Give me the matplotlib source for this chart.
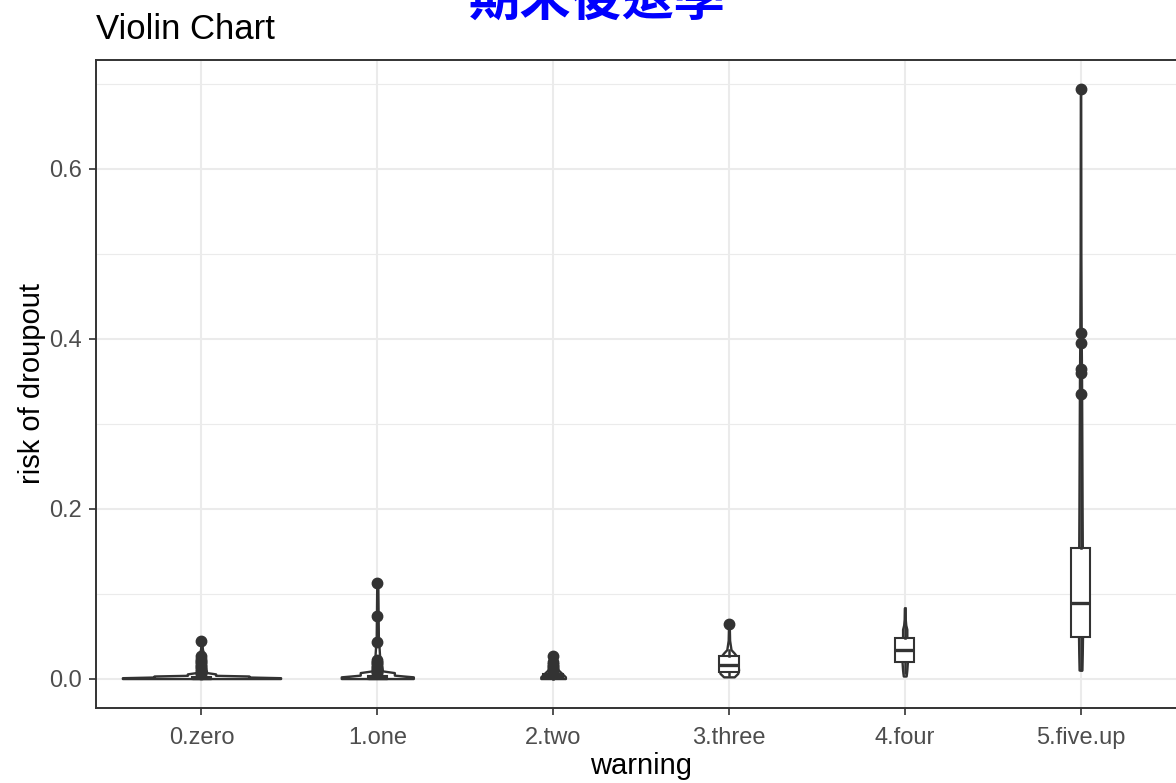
import matplotlib
matplotlib.use('Agg')
import matplotlib.pyplot as plt
from matplotlib.ticker import FixedLocator

plt.rcParams['font.family'] = ['Liberation Sans', 'DejaVu Sans']

# categories on the x axis
categories = ['0.zero', '1.one', '2.two', '3.three', '4.four', '5.five.up']

# violin outlines: y levels and half widths (x units)
violin_y = [
    [0.000, 0.001, 0.0018, 0.003, 0.0038, 0.0055, 0.007, 0.015, 0.026, 0.035, 0.044],
    [0.000, 0.002, 0.003, 0.004, 0.007, 0.009, 0.020, 0.050, 0.112],
    [0.000, 0.002, 0.004, 0.007, 0.010, 0.014, 0.018, 0.024],
    [0.002, 0.006, 0.010, 0.020, 0.026, 0.030, 0.034, 0.045, 0.064],
    [0.003, 0.006, 0.010, 0.019, 0.030, 0.045, 0.050, 0.058, 0.063, 0.070, 0.083],
    [0.010, 0.030, 0.060, 0.090, 0.120, 0.160, 0.200, 0.250, 0.300, 0.350, 0.400, 0.500, 0.600, 0.693],
]
violin_hw = [
    [0.45, 0.45, 0.27, 0.27, 0.08, 0.08, 0.03, 0.02, 0.015, 0.005, 0.002],
    [0.205, 0.205, 0.15, 0.097, 0.097, 0.03, 0.015, 0.006, 0.003],
    [0.07, 0.07, 0.06, 0.045, 0.03, 0.02, 0.01, 0.003],
    [0.03, 0.05, 0.055, 0.05, 0.045, 0.03, 0.012, 0.004, 0.002],
    [0.008, 0.01, 0.012, 0.015, 0.015, 0.014, 0.012, 0.012, 0.006, 0.003, 0.002],
    [0.008, 0.01, 0.012, 0.012, 0.012, 0.01, 0.009, 0.008, 0.007, 0.006, 0.004, 0.002, 0.0015, 0.001],
]

# boxplot statistics
box_q1 = [0.000, 0.000, 0.001, 0.008, 0.019, 0.049]
box_med = [0.001, 0.001, 0.003, 0.016, 0.033, 0.089]
box_q3 = [0.002, 0.003, 0.005, 0.026, 0.048, 0.154]
whisk_lo = [0.000, 0.000, 0.000, 0.004, 0.006, 0.010]
whisk_hi = [0.004, 0.005, 0.008, 0.034, 0.083, 0.330]
outliers = [
    [0.005, 0.007, 0.009, 0.011, 0.013, 0.015, 0.017, 0.019, 0.021, 0.023, 0.026, 0.044],
    [0.006, 0.008, 0.010, 0.012, 0.014, 0.016, 0.018, 0.020, 0.022, 0.0435, 0.074, 0.112],
    [0.009, 0.011, 0.013, 0.015, 0.017, 0.019, 0.026],
    [0.064],
    [],
    [0.335, 0.360, 0.364, 0.395, 0.407, 0.693],
]

dark = '#333333'
fig = plt.figure(figsize=(11.76, 7.83), dpi=100)
ax = fig.add_axes([96/1176, 1 - 708/783, (1186 - 96)/1176, (708 - 60)/783])

pos = list(range(1, len(categories) + 1))
for i, p in enumerate(pos):
    lft = [p - h for h in violin_hw[i]]
    rgt = [p + h for h in violin_hw[i]]
    ax.fill_betweenx(violin_y[i], lft, rgt, facecolor='white', edgecolor=dark,
                     linewidth=1.7, zorder=2)

stats = []
for i in range(len(categories)):
    stats.append({'med': box_med[i], 'q1': box_q1[i], 'q3': box_q3[i],
                  'whislo': whisk_lo[i], 'whishi': whisk_hi[i], 'fliers': outliers[i]})
ax.bxp(stats, positions=pos, widths=0.11, showcaps=False, patch_artist=True,
       boxprops=dict(facecolor='white', edgecolor=dark, linewidth=1.5),
       whiskerprops=dict(color=dark, linewidth=1.8),
       medianprops=dict(color=dark, linewidth=2.4),
       flierprops=dict(marker='o', markerfacecolor=dark, markeredgecolor=dark, markersize=7.5),
       manage_ticks=False, zorder=3)

ymax = max(max(v) for v in violin_y)
ax.set_xlim(0.4, 6.6)
ax.set_ylim(-0.05 * ymax, ymax * 1.05)
ax.set_xticks(pos)
ax.set_xticklabels(categories)
ax.set_yticks([0.0, 0.2, 0.4, 0.6])
ax.set_yticklabels(['0.0', '0.2', '0.4', '0.6'])
ax.yaxis.set_minor_locator(FixedLocator([0.1, 0.3, 0.5, 0.7]))
ax.tick_params(axis='both', which='major', length=5, width=1.2, color=dark,
               labelsize=17, labelcolor='#4D4D4D', pad=5)
ax.tick_params(axis='x', which='major', pad=9)
ax.tick_params(axis='y', which='minor', length=0)
ax.grid(True, which='major', color='#EBEBEB', linewidth=1.5, zorder=0)
ax.grid(True, which='minor', axis='y', color='#EBEBEB', linewidth=0.8, zorder=0)
ax.set_axisbelow(True)
for s in ax.spines.values():
    s.set_color(dark)
    s.set_linewidth(1.4)

ax.set_xlabel('warning', fontsize=21, labelpad=2)
ax.set_ylabel('risk of droupout', fontsize=21, labelpad=2)
fig.text(96/1176, 1 - 39/783, 'Violin Chart', fontsize=25, ha='left', va='baseline')
fig.text(597/1176, 1 - 16/783, '期末後退學', family=['Noto Sans CJK TC'], weight='bold',
         color='#0000FF', fontsize=37, ha='center', va='baseline')

fig.savefig('out.png', dpi=100)
